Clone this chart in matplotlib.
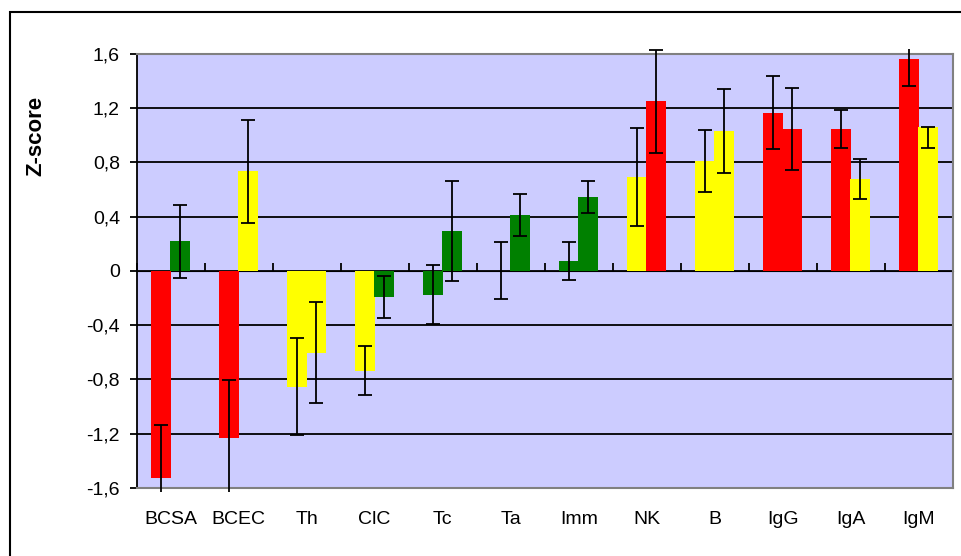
import numpy as np
import matplotlib
matplotlib.use("Agg")
import matplotlib.pyplot as plt
from matplotlib.patches import Rectangle
from matplotlib.transforms import Bbox, TransformedBbox

plt.rcParams['font.family'] = ['Liberation Sans', 'DejaVu Sans']

categories = ['BCSA', 'BCEC', 'Th', 'ClC', 'Tc', 'Ta', 'Imm', 'NK', 'B', 'IgG', 'IgA', 'IgM']

left_vals = [-1.53, -1.235, -0.854, -0.736, -0.175, 0.0, 0.071, 0.691, 0.81, 1.166, 1.046, 1.562]
right_vals = [0.219, 0.736, -0.603, -0.19, 0.293, 0.411, 0.544, 1.252, 1.033, 1.046, 0.677, 1.06]

left_err = [0.39, 0.43, 0.36, 0.18, 0.22, 0.21, 0.14, 0.36, 0.23, 0.27, 0.14, 0.20]
right_err_low = [0.27, 0.38, 0.37, 0.155, 0.37, 0.155, 0.12, 0.38, 0.31, 0.30, 0.148, 0.15]
right_err_high = [0.27, 0.38, 0.37, 0.155, 0.37, 0.155, 0.12, 0.38, 0.31, 0.30, 0.148, 0.0]

red = '#FF0000'
yellow = '#FFFF00'
green = '#008000'
left_colors = [red, red, yellow, yellow, green, green, green, yellow, yellow, red, red, red]
right_colors = [green, yellow, yellow, green, green, green, green, red, yellow, red, yellow, yellow]

yticks = [-1.6, -1.2, -0.8, -0.4, 0, 0.4, 0.8, 1.2, 1.6]
ytick_labels = ['-1,6', '-1,2', '-0,8', '-0,4', '0', '0,4', '0,8', '1,2', '1,6']

fig = plt.figure(figsize=(9.61, 5.56), dpi=100)
ax = fig.add_axes([0.1422, 0.1228, 0.8492, 0.7801])
ax.set_facecolor('#CCCCFF')

x = np.arange(len(categories))
off = 0.14
w = 0.3

ax.bar(x - off, left_vals, width=w, color=left_colors, zorder=2)
ax.bar(x + off, right_vals, width=w, color=right_colors, zorder=2)

e1 = ax.errorbar(x - off, left_vals, yerr=left_err, fmt='none', ecolor='black',
                 elinewidth=1.3, capsize=5, capthick=1.3, zorder=3)
e2 = ax.errorbar(x + off, right_vals, yerr=[right_err_low, right_err_high], fmt='none',
                 ecolor='black', elinewidth=1.3, capsize=5, capthick=1.3, zorder=3)

# error bars may run a few pixels past the plot area, as in the original
clip = TransformedBbox(Bbox([[0, -0.01], [1, 1.012]]), ax.transAxes)
for eb in (e1, e2):
    for art in list(eb[1]) + list(eb[2]):
        art.set_clip_box(clip)

ax.set_xlim(-0.5, len(categories) - 0.5)
ax.set_ylim(-1.6, 1.6)
ax.set_yticks(yticks)
ax.set_yticklabels(ytick_labels, fontsize=14)
ax.tick_params(axis='y', direction='out', length=5, width=1.3, pad=7)

ax.set_xticks(x)
ax.set_xticklabels(categories, fontsize=14)
ax.tick_params(axis='x', length=0, pad=17)

ax.set_axisbelow(True)
ax.yaxis.grid(True, color='black', linewidth=1.3)

for side in ['top', 'right', 'bottom']:
    ax.spines[side].set_color('#808080')
    ax.spines[side].set_linewidth(1.5)
ax.spines['left'].set_color('black')
ax.spines['left'].set_linewidth(1.3)

# category axis crossing at zero with tick marks between categories
sec = ax.secondary_xaxis(0.5)
sec.set_xticks(np.arange(len(categories) + 1) - 0.5)
sec.set_xticklabels([])
sec.tick_params(direction='out', length=6, width=1.3, color='black')
sec.spines['bottom'].set_visible(False)

ax.set_ylabel('Z-score', fontsize=16, fontweight='bold')
ax.yaxis.set_label_coords(-0.111, 0.811)

fig.patches.append(Rectangle((10 / 961, -0.02), 1.0, 0.998, transform=fig.transFigure,
                             fill=False, edgecolor='black', linewidth=1.5))

fig.savefig('out.png', dpi=100)
